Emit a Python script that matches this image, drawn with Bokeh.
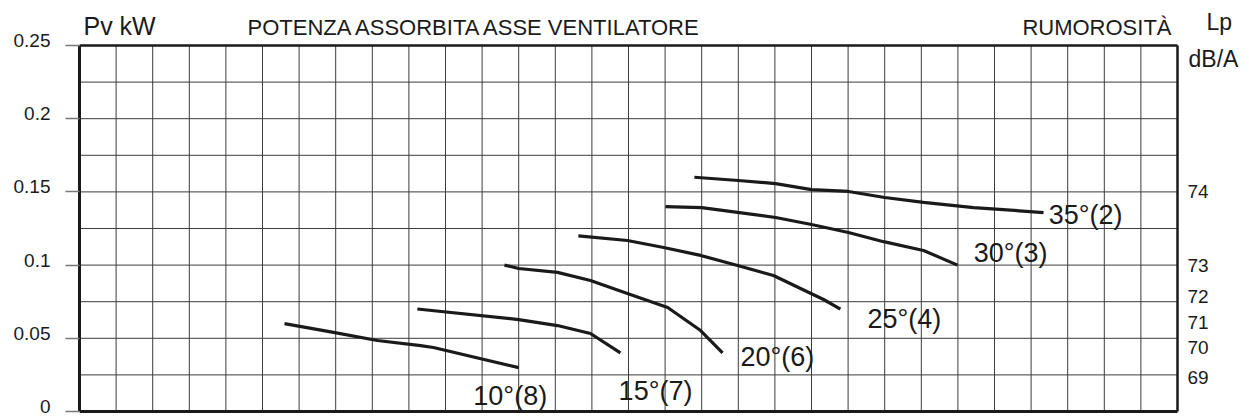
from bokeh.plotting import figure
from bokeh.models import ColumnDataSource, FixedTicker, LinearAxis, Label, Range1d
from bokeh.core.properties import value
from bokeh.embed import file_html
from bokeh.resources import INLINE

# ---------------- data ----------------
# x: position along the (unlabelled) horizontal grid, in grid columns 0..30
c10_x = [5.6, 6.94, 8.14, 9.32, 9.67, 12.0]
c10_y = [0.060, 0.054, 0.0485, 0.045, 0.0437, 0.030]

c15_x = [9.23, 12.0, 13.06, 13.96, 14.78]
c15_y = [0.070, 0.0628, 0.0587, 0.0533, 0.040]

c20_x = [11.61, 12.0, 13.06, 13.96, 14.97, 16.07, 16.97, 17.57]
c20_y = [0.100, 0.0977, 0.095, 0.0895, 0.0806, 0.071, 0.0553, 0.040]

c25_x = [13.63, 14.97, 15.96, 16.97, 17.98, 18.96, 19.7, 20.33, 20.79]
c25_y = [0.120, 0.1168, 0.112, 0.1066, 0.0997, 0.0929, 0.084, 0.0765, 0.070]

c30_x = [16.01, 17.0, 17.98, 19.02, 20.0, 21.01, 21.97, 23.06, 23.99]
c30_y = [0.140, 0.1393, 0.136, 0.1325, 0.1277, 0.1223, 0.116, 0.110, 0.100]

c35_x = [16.8, 18.0, 19.02, 20.0, 21.01, 22.0, 23.06, 24.43, 26.34]
c35_y = [0.160, 0.1578, 0.1557, 0.1516, 0.1503, 0.1462, 0.1428, 0.1393, 0.1359]

curve_labels = ["10°(8)", "15°(7)", "20°(6)", "25°(4)", "30°(3)", "35°(2)"]
label_x = [10.76, 14.73, 18.06, 21.53, 24.43, 26.48]
label_y = [0.0109, 0.0143, 0.0369, 0.0635, 0.1086, 0.1339]

y_ticks = [0, 0.05, 0.1, 0.15, 0.2, 0.25]
y_tick_labels = ["0", "0.05", "0.1", "0.15", "0.2", "0.25"]

db_labels = ["74", "73", "72", "71", "70", "69"]
db_pos = [0.15, 0.1, 0.0786, 0.0608, 0.0437, 0.0232]

n_cols = 30
n_rows = 10
y_max = 0.25

# ---------------- layout (pixels) ----------------
W, H = 1249, 416
LEFT, TOP, BOTTOM_PAD = 79, 0, 1
GRID_W = 1098                      # pixel width of the 30 grid columns
GRID_TOP, GRID_BOTTOM = 45, 411    # pixel rows of y_max and 0
frame_w = W - LEFT
frame_h = H - TOP - BOTTOM_PAD
ppu_y = (GRID_BOTTOM - GRID_TOP) / y_max
x_hi = n_cols * frame_w / GRID_W
y_lo = -(frame_h - GRID_BOTTOM) / ppu_y
y_hi = y_max + GRID_TOP / ppu_y

FONT = "Liberation Sans"
INK = "#1a1a1a"

p = figure(width=W, height=H, output_backend="svg", toolbar_location=None,
           x_range=Range1d(0, x_hi), y_range=Range1d(y_lo, y_hi),
           x_axis_location=None, y_axis_location=None,
           min_border_left=LEFT, min_border_right=0, min_border_top=TOP,
           min_border_bottom=BOTTOM_PAD)
p.background_fill_color = "white"
p.border_fill_color = "white"
p.outline_line_color = None
p.grid.visible = False

# left axis: line + outward tick marks only (as minor ticks, so no label texts)
ax_ticks = LinearAxis(ticker=FixedTicker(ticks=[], minor_ticks=y_ticks), bounds=(0, y_max))
ax_ticks.major_tick_line_color = None
ax_ticks.minor_tick_out = 14
ax_ticks.minor_tick_in = 0
ax_ticks.minor_tick_line_color = "#777777"
ax_ticks.minor_tick_line_width = 1.5
ax_ticks.axis_line_color = INK
ax_ticks.axis_line_width = 3
ax_ticks.major_label_standoff = 0
p.add_layout(ax_ticks, "left")

# left axis: labels, set slightly above their tick marks as in the original
lab_shift = 5 / ppu_y
lab_pos = [t + lab_shift for t in y_ticks]
ax_labels = LinearAxis(ticker=FixedTicker(ticks=lab_pos),
                       major_label_overrides={t: s for t, s in zip(lab_pos, y_tick_labels)})
ax_labels.major_tick_out = 0
ax_labels.major_tick_in = 0
ax_labels.minor_tick_line_color = None
ax_labels.axis_line_color = None
ax_labels.major_label_standoff = 15
ax_labels.major_label_text_font = FONT
ax_labels.major_label_text_font_size = "19px"
ax_labels.major_label_text_color = INK
p.add_layout(ax_labels, "left")

# grid lines
vx = list(range(1, n_cols))
p.segment(x0=vx, x1=vx, y0=[0] * len(vx), y1=[y_max] * len(vx),
          line_color="#3c3c3c", line_width=1)
hy = [y_max * j / n_rows for j in range(1, n_rows)]
p.segment(x0=[0] * len(hy), x1=[n_cols] * len(hy), y0=hy, y1=hy,
          line_color="#3c3c3c", line_width=1)

# box
p.segment(x0=[0], x1=[n_cols], y0=[y_max], y1=[y_max], line_color=INK, line_width=2.5)
p.segment(x0=[n_cols], x1=[n_cols], y0=[0], y1=[y_max], line_color=INK, line_width=2.5)
p.segment(x0=[0], x1=[n_cols], y0=[0], y1=[0], line_color=INK, line_width=3)

# curves
for xs, ys in [(c10_x, c10_y), (c15_x, c15_y), (c20_x, c20_y),
               (c25_x, c25_y), (c30_x, c30_y), (c35_x, c35_y)]:
    p.line(xs, ys, line_width=3.2, line_color=INK, line_join="round", line_cap="butt")

src = ColumnDataSource(dict(x=label_x, y=label_y, t=curve_labels))
p.text(x="x", y="y", text="t", source=src, text_font=value(FONT), text_font_size="27px",
       text_baseline="middle", text_align="left", text_color=INK)

# right-hand noise scale
dsrc = ColumnDataSource(dict(x=[n_cols] * len(db_pos), y=db_pos, t=db_labels))
p.text(x="x", y="y", text="t", source=dsrc, x_offset=10, text_font=value(FONT),
       text_font_size="19px", text_baseline="middle", text_align="left", text_color=INK)

# header texts (screen units: x from frame left, y up from frame bottom)
def hdr(txt, x_px, mid_px, size, align="left"):
    p.add_layout(Label(x=x_px - LEFT, y=frame_h - mid_px, x_units="screen", y_units="screen",
                       text=txt, text_font=FONT, text_font_size=size, text_color=INK,
                       text_align=align, text_baseline="middle"))

hdr("Pv kW", 83, 25, "25px")
hdr("POTENZA ASSORBITA ASSE VENTILATORE", 247, 27, "22px")
hdr("RUMOROSITÀ", 1171, 27, "22px", align="right")
hdr("Lp", 1206, 21, "23px")
hdr("dB/A", 1188, 58, "23px")

open("out.html", "w").write(file_html(p, INLINE))
